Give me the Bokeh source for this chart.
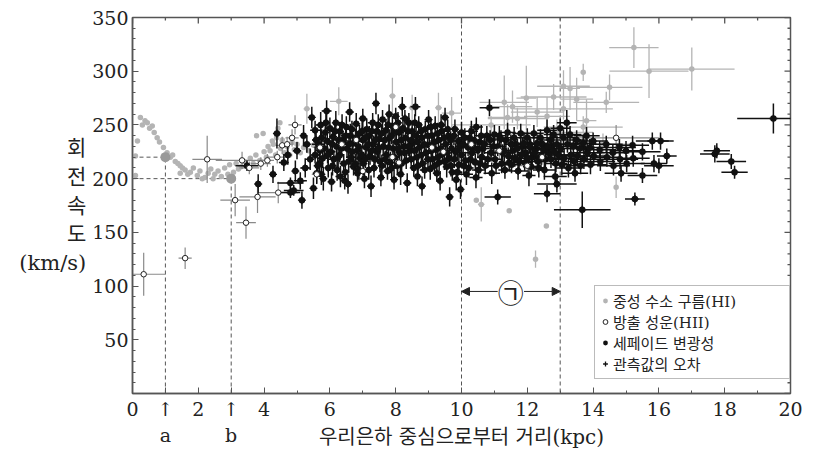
import math
from bokeh.plotting import figure
from bokeh.models import (FixedTicker, Span, Label, Arrow, NormalHead,
                          Legend, LegendItem, ColumnDataSource)
from bokeh.embed import file_html
from bokeh.resources import INLINE

# ---------------- data (kpc, km/s) ----------------
# neutral hydrogen (HI), inner curve: (x, y)
hi_inner = [(0.09,221),(0.09,203),(0.15,235),(0.24,257),(0.3,250),(0.38,254),(0.45,252),(0.52,247),
            (0.6,249),(0.66,243),(0.75,238),(0.82,234),(0.94,229),(1.05,224),(1.15,220),(1.22,222),
            (1.3,216),(1.38,214),(1.45,212),(1.45,205),(1.52,210),(1.6,208),(1.68,204),(1.76,206),
            (1.85,210),(1.97,203),(2.05,207),(2.12,200),(2.2,201),(2.3,205),(2.38,209),(2.45,200),
            (2.5,204),(2.6,207),(2.7,202),(2.8,210),(2.9,204),(2.95,213),(3.07,206),(3.15,214),
            (3.22,209),(3.3,211),(3.4,216),(3.5,211),(3.58,219),(3.67,214),(3.75,222),(3.77,240),
            (3.87,217),(3.97,242),(4.0,225),(4.07,220),(4.12,230),(4.18,226),(4.25,235),(4.28,232),
            (4.35,222),(4.38,238),(4.42,247),(4.48,252),(4.5,228),(4.55,236),(4.62,224),(4.7,230),
            (4.78,222),(4.85,234),(4.92,227),(5.0,232),(5.1,224),(5.2,229),(5.35,226),(5.5,231),
            (5.7,228),(5.9,233)]
# neutral hydrogen (HI), with errors: (x, y, xerr, yerr)
hi_outer = [(15.24,322,0.75,19),(15.7,300,1.2,25),(17.0,302,1.3,20),(13.7,299,0.05,8),
            (14.5,285,1.0,12),(14.4,271,1.0,10),(13.3,284,0.3,20),(13.1,286,0.8,15),
            (12.8,276,1.0,12),(13.5,274,0.5,20),(13.8,254,0.3,20),(13.7,248,1.2,10),
            (12.6,258,0.7,18),(11.3,271,0.75,25),(11.55,267,0.6,15),(11.97,275,0.3,30),
            (11.7,256,0.9,10),(11.4,257,0.6,12),(9.7,261,0.3,15),(12.3,262,0.8,14),
            (7.9,277,0.1,17),(6.27,272,0.27,13),(5.3,265,0.1,14),(8.5,266,0.1,12),
            (9.3,266,0.1,14),(10.6,176,0.1,16),(10.45,180,0.0,0),(11.45,170,0.0,0),
            (12.58,156,0.0,0),(12.25,125,0.05,8),(14.7,192,0.05,10),(13.1,265,1.5,10),
            (10.9,250,1.2,8),(12.9,243,1.1,12),(14.3,232,0.9,10)]
# emission nebulae (HII): (x, y, xerr, yerr)
hii = [(0.34,111,0.66,20),(1.6,126,0.2,10),(3.45,159,0.3,15),(3.12,180,0.45,15),(3.8,183,0.55,15),
       (2.27,218,0.45,22),(3.33,217,0.8,8),(3.55,210,0.3,6),(3.9,214,0.3,6),(4.1,217,0.2,6),
       (4.4,220,0.3,6),(4.43,187,0.6,10),(4.55,231,0.2,8),(4.7,232,0.2,7),(4.85,238,0.2,8),
       (4.94,250,0.2,9),(5.6,204,0.15,8),(5.7,229,0.2,7),(6.36,232,0.2,8),(6.8,236,0.2,8),
       (7.0,207,0.2,7),(7.9,220,0.2,8),(8.0,248,0.2,7),(8.1,215,0.2,8),(9.1,229,0.2,7),
       (9.45,225,0.2,8),(10.3,232,0.3,8),(11.15,226,0.3,8),(12.0,212,0.3,8),(12.45,220,0.3,7),
       (14.7,238,1.3,12)]
# Cepheid variables: (x, y, xerr, yerr)
cepheid_inner = [(3.48,212,0.35,5),(3.82,195,0.06,9),(4.27,204,0.05,8),(4.39,242,0.05,14),(4.6,215,0.15,8),
                 (4.72,222,0.1,9),(4.8,196,0.4,5),(4.8,187,0.3,5),(4.9,189,0.3,5),(4.95,207,0.1,10),
                 (5.0,226,0.12,8),(5.1,198,0.2,8),(5.15,180,0.06,8),(5.2,240,0.1,10),(5.25,210,0.15,9),
                 (5.3,232,0.1,8),(5.4,218,0.12,10),(5.45,257,0.1,10),(5.5,191,0.1,10)]
cepheid_mid = [(5.55,245,0.15,9),(5.55,222,0.12,8),(5.6,205,0.1,10),(5.65,232,0.2,7),(5.68,214,0.1,9),
               (5.72,250,0.15,12),(5.75,238,0.1,8),(5.78,219,0.18,9),(5.8,200,0.1,11),(5.83,228,0.12,7),
               (5.86,243,0.1,9),(5.9,263,0.15,10),(5.92,235,0.2,8),(5.95,210,0.1,9),(6.0,247,0.12,10),
               (6.02,225,0.15,7),(6.05,197,0.1,9),(6.1,239,0.1,8),(6.12,218,0.2,9),(6.18,252,0.1,11),
               (6.2,230,0.15,8),(6.22,208,0.1,10),(6.3,244,0.12,9),(6.3,222,0.1,7),(6.32,202,0.15,10),
               (6.4,236,0.1,8),(6.42,214,0.12,9),(6.45,198,0.1,8),(6.5,248,0.2,10),(6.52,228,0.1,8),
               (6.55,195,0.1,9),(6.6,262,0.12,9),(6.62,240,0.1,11),(6.64,220,0.15,8),(6.7,233,0.1,9),
               (6.72,211,0.12,8),(6.8,251,0.1,10),(6.82,226,0.15,9),(6.84,205,0.1,8),(6.9,242,0.12,8),
               (6.92,219,0.1,10),(7.0,256,0.1,9),(7.0,236,0.15,8),(7.02,214,0.1,11),(7.05,200,0.12,9),
               (7.1,229,0.1,8),(7.12,246,0.2,10),(7.2,240,0.1,9),(7.22,221,0.12,8),(7.25,193,0.1,10),
               (7.3,252,0.15,9),(7.32,232,0.1,8),(7.34,210,0.1,9),(7.4,270,0.1,10),(7.42,244,0.12,9),
               (7.44,225,0.1,8),(7.5,237,0.15,9),(7.52,216,0.1,10),(7.55,201,0.1,8),(7.6,255,0.12,9),
               (7.62,230,0.1,8),(7.7,245,0.1,10),(7.72,222,0.15,9),(7.75,207,0.1,8),(7.8,260,0.1,9),
               (7.82,238,0.12,8),(7.84,215,0.1,10),(7.9,249,0.15,9),(7.92,228,0.1,8),(7.95,199,0.1,9),
               (8.0,258,0.1,8),(8.02,234,0.12,10),(8.05,212,0.1,9),(8.1,243,0.15,8),(8.12,224,0.1,9),
               (8.15,204,0.1,10),(8.2,267,0.12,9),(8.22,247,0.1,8),(8.24,230,0.15,9),(8.3,238,0.1,10),
               (8.32,217,0.1,8),(8.35,196,0.12,9),(8.4,252,0.1,9),(8.42,226,0.15,8),(8.5,244,0.1,10),
               (8.52,233,0.12,9),(8.55,210,0.1,8),(8.6,267,0.15,9),(8.62,240,0.1,8),(8.64,220,0.12,10),
               (8.66,202,0.1,9),(8.7,250,0.1,8),(8.72,229,0.15,9),(8.8,238,0.1,10),(8.82,214,0.12,8),
               (8.8,193,0.1,9),(8.9,246,0.1,8),(8.92,224,0.15,9),(9.0,255,0.1,9),(9.02,231,0.12,8),
               (9.05,209,0.1,10),(9.1,240,0.15,9),(9.12,218,0.1,8),(9.2,249,0.1,9),(9.22,227,0.12,10),
               (9.25,205,0.1,8),(9.3,236,0.15,9),(9.32,215,0.1,8),(9.35,198,0.1,9),(9.4,244,0.12,10),
               (9.42,223,0.1,8),(9.5,257,0.1,9),(9.52,232,0.15,8),(9.55,211,0.1,10),(9.6,240,0.12,9),
               (9.62,219,0.1,8),(9.64,183,0.1,9),(9.7,228,0.15,10),(9.72,206,0.1,8),(9.8,246,0.1,9),
               (9.82,225,0.12,8),(9.84,199,0.1,10),(9.9,235,0.15,9),(9.92,213,0.1,8),(9.97,190,0.1,9),
               (10.0,243,0.12,10),(10.0,222,0.1,8)]
cepheid_fill = [(5.58,236,0.12,10),(5.63,212,0.1,8),(5.7,226,0.15,9),(5.74,204,0.1,10),(5.88,252,0.12,9),
                (5.93,222,0.1,8),(6.07,232,0.15,10),(6.08,212,0.1,9),(6.15,244,0.12,8),(6.25,220,0.1,10),
                (6.27,236,0.15,9),(6.35,228,0.1,8),(6.37,250,0.12,10),(6.47,206,0.1,9),(6.48,240,0.15,8),
                (6.57,216,0.1,10),(6.58,232,0.12,9),(6.67,246,0.1,8),(6.68,225,0.15,10),(6.77,214,0.1,9),
                (6.78,238,0.12,8),(6.87,230,0.1,10),(6.88,208,0.15,9),(6.97,222,0.1,8),(6.98,244,0.12,10),
                (7.07,238,0.1,9),(7.08,218,0.15,8),(7.17,232,0.1,10),(7.18,208,0.12,9),(7.27,244,0.1,8),
                (7.28,226,0.15,10),(7.37,218,0.1,9),(7.38,236,0.12,8),(7.47,250,0.1,10),(7.48,228,0.15,9),
                (7.57,242,0.1,8),(7.58,212,0.12,10),(7.67,236,0.1,9),(7.68,218,0.15,8),(7.77,250,0.1,10),
                (7.78,229,0.12,9),(7.87,240,0.1,8),(7.88,210,0.15,10),(7.97,220,0.1,9),(7.98,244,0.12,8),
                (8.07,252,0.1,10),(8.08,228,0.15,9),(8.17,236,0.1,8),(8.18,214,0.12,10),(8.27,224,0.1,9),
                (8.28,256,0.15,8),(8.37,244,0.1,10),(8.38,230,0.12,9),(8.47,218,0.1,8),(8.48,236,0.15,10),
                (8.57,226,0.1,9),(8.58,252,0.12,8),(8.67,234,0.1,10),(8.68,212,0.15,9),(8.77,244,0.1,8),
                (8.78,222,0.12,10),(8.87,232,0.1,9),(8.88,208,0.15,8),(8.97,240,0.1,10),(8.98,218,0.12,9),
                (9.07,248,0.1,8),(9.08,226,0.15,10),(9.17,234,0.1,9),(9.18,212,0.12,8),(9.27,242,0.1,10),
                (9.28,220,0.15,9),(9.37,228,0.1,8),(9.38,250,0.12,10),(9.47,238,0.1,9),(9.48,216,0.15,8),
                (9.57,224,0.1,10),(9.58,246,0.12,9),(9.67,236,0.1,8),(9.68,212,0.15,10),(9.77,240,0.1,9),
                (9.78,218,0.12,8),(9.87,226,0.1,10),(9.88,206,0.15,9),(9.95,230,0.1,8),(10.05,232,0.15,9),
                (10.07,212,0.2,8),(10.25,238,0.2,9),(10.27,218,0.2,8),(10.35,230,0.2,9),(10.55,234,0.2,8),
                (10.57,214,0.25,9),(10.65,228,0.2,8),(10.77,240,0.2,9),(10.8,218,0.25,8),(10.97,230,0.2,9),
                (11.05,212,0.25,8),(11.15,240,0.2,9),(11.25,224,0.25,8),(11.35,236,0.2,9),(11.45,215,0.25,8),
                (11.55,226,0.2,9),(11.65,232,0.25,8),(11.75,216,0.2,9),(11.85,230,0.3,8),(11.95,224,0.25,9),
                (12.07,232,0.3,8),(12.15,220,0.25,9),(12.27,228,0.3,8),(12.35,210,0.25,9),(12.45,232,0.3,8),
                (12.55,218,0.3,9),(12.65,224,0.3,8),(12.75,230,0.3,9),(12.87,214,0.35,8),(12.95,222,0.3,9)]
cepheid_outer = [(10.1,238,0.2,9),(10.12,217,0.15,8),(10.15,204,0.2,10),(10.2,229,0.2,8),(10.22,210,0.15,9),
                 (10.3,244,0.2,10),(10.32,224,0.25,8),(10.4,235,0.2,9),(10.42,215,0.15,8),(10.44,201,0.2,10),
                 (10.45,248,0.2,9),(10.5,227,0.25,8),(10.52,208,0.2,9),(10.6,240,0.2,10),(10.62,220,0.15,8),
                 (10.7,232,0.25,9),(10.72,212,0.2,8),(10.85,266,0.3,8),(10.87,236,0.2,9),(10.9,224,0.2,8),
                 (10.92,205,0.25,10),(11.0,241,0.2,9),(11.02,218,0.2,8),(11.1,230,0.25,9),(11.1,183,0.4,7),
                 (11.2,237,0.2,8),(11.22,214,0.25,9),(11.3,226,0.2,10),(11.32,208,0.2,8),(11.4,243,0.25,9),
                 (11.42,221,0.2,8),(11.5,232,0.2,9),(11.52,213,0.3,8),(11.6,238,0.2,10),(11.62,219,0.25,8),
                 (11.7,228,0.2,9),(11.72,207,0.3,8),(11.8,242,0.25,9),(11.82,222,0.2,8),(11.9,233,0.3,10),
                 (11.92,215,0.2,8),(12.0,238,0.25,9),(12.02,219,0.3,8),(12.05,203,0.2,10),(12.1,229,0.3,8),
                 (12.12,211,0.25,9),(12.2,242,0.3,8),(12.22,224,0.25,9),(12.3,233,0.3,8),(12.32,216,0.3,10),
                 (12.4,238,0.25,8),(12.42,221,0.3,9),(12.5,227,0.3,8),(12.52,208,0.35,9),(12.6,245,0.3,10),
                 (12.62,230,0.25,8),(12.6,186,0.4,8),(12.7,236,0.3,9),(12.72,218,0.35,8),(12.8,241,0.3,9),
                 (12.82,225,0.3,8),(12.85,202,0.35,10),(12.9,232,0.3,8),(12.9,195,0.6,8),(13.0,247,0.3,9),
                 (13.02,228,0.35,8),(13.05,213,0.3,10),(13.1,238,0.35,8),(13.12,219,0.3,9),(13.2,252,0.3,12),
                 (13.22,232,0.35,8),(13.25,210,0.4,9),(13.3,241,0.35,8),(13.32,222,0.3,9),(13.4,230,0.4,8),
                 (13.42,216,0.35,9),(13.45,205,0.4,8),(13.5,236,0.35,9),(13.52,221,0.4,8),(13.6,228,0.4,9),
                 (13.62,212,0.35,8),(13.67,171,0.86,17),(13.7,233,0.4,8),(13.72,218,0.45,9),(13.8,240,0.4,8),
                 (13.82,224,0.45,9),(13.9,229,0.4,8),(13.92,213,0.5,9),(14.0,235,0.45,8),(14.02,221,0.4,9),
                 (14.2,227,0.5,8),(14.22,216,0.45,9),(14.4,232,0.5,8),(14.42,220,0.45,9),(14.6,224,0.5,8),
                 (14.62,212,0.5,9),(14.8,229,0.5,8),(14.82,218,0.55,9),(14.85,205,0.5,8),(15.0,226,0.5,9),
                 (15.02,214,0.55,8),(15.2,231,0.5,9),(15.22,219,0.5,8),(15.27,181,0.3,6),(15.5,225,0.55,8),
                 (15.5,203,0.45,7),(15.8,235,0.5,8),(15.85,214,0.4,8),(16.0,212,0.45,7),(16.05,235,0.4,8),
                 (16.24,221,0.3,7),(17.7,223,0.45,8),(17.76,226,0.4,7),(18.2,216,0.45,7),(18.3,206,0.4,6),
                 (19.48,256,1.1,14)]
# reference points a and b (radius, speed)
ref_x = [1.0, 3.0]
ref_v = [220, 200]
ref_names = ["a", "b"]
# region (ㄱ) boundaries
region_x = [10.0, 13.0]
region_label = "㉠"
region_v = 95

x_major = [0, 2, 4, 6, 8, 10, 12, 14, 16, 18, 20]
x_minor = [1, 3, 5, 7, 9, 11, 13, 15, 17, 19]
y_major = [0, 50, 100, 150, 200, 250, 300, 350]
y_minor = [10, 20, 30, 40, 60, 70, 80, 90, 110, 120, 130, 140, 160, 170, 180, 190,
           210, 220, 230, 240, 260, 270, 280, 290, 310, 320, 330, 340]

legend_labels = ["중성 수소 구름(HI)", "방출 성운(HII)", "세페이드 변광성", "관측값의 오차"]
x_title = "우리은하 중심으로부터 거리(kpc)"
y_title = "회\n전\n속\n도\n(km/s)"

SERIF = "DejaVu Serif"
KR = "'DejaVu Serif', 'Noto Sans CJK KR'"
KR_ONLY = "Noto Sans CJK KR"
AXC = "#555555"


def src(rows):
    x = [r[0] for r in rows]
    y = [r[1] for r in rows]
    xe = [r[2] if len(r) > 2 else 0 for r in rows]
    ye = [r[3] if len(r) > 3 else 0 for r in rows]
    return ColumnDataSource(dict(x=x, y=y,
                                 xl=[a - b for a, b in zip(x, xe)], xr=[a + b for a, b in zip(x, xe)],
                                 yl=[a - b for a, b in zip(y, ye)], yh=[a + b for a, b in zip(y, ye)]))


p = figure(width=816, height=455, x_range=(0, 20), y_range=(0, 350),
           output_backend="svg", toolbar_location=None,
           min_border_left=132, min_border_right=26, min_border_top=17, min_border_bottom=62)
p.grid.visible = False
p.background_fill_color = "white"
p.border_fill_color = "white"
p.outline_line_color = AXC
p.outline_line_width = 1.5

# axes
for ax in (p.xaxis[0], p.yaxis[0]):
    ax.axis_line_color = AXC
    ax.axis_line_width = 1.5
    ax.major_tick_in = 6
    ax.major_tick_out = 0
    ax.minor_tick_in = 3
    ax.minor_tick_out = 0
    ax.major_tick_line_color = AXC
    ax.minor_tick_line_color = AXC
    ax.major_label_text_font = SERIF
    ax.major_label_text_font_size = "19px"
    ax.major_label_text_color = "#222222"

# bottom axis: numbers, plus the a / b markers below the axis at their radii
p.xaxis[0].ticker = FixedTicker(ticks=sorted(x_major + ref_x),
                                minor_ticks=[t for t in x_minor if t not in ref_x])
p.xaxis[0].major_label_overrides = {xv: "↑\n" + nm for xv, nm in zip(ref_x, ref_names)}
p.xaxis[0].major_label_standoff = 4
p.xaxis[0].axis_label = x_title
p.xaxis[0].axis_label_text_font = KR
p.xaxis[0].axis_label_text_font_size = "20px"
p.xaxis[0].axis_label_text_font_style = "normal"
p.xaxis[0].axis_label_text_color = "#222222"
p.xaxis[0].axis_label_standoff = -24

p.yaxis[0].ticker = FixedTicker(ticks=y_major, minor_ticks=y_minor)
p.yaxis[0].major_label_overrides = {0: ""}
p.yaxis[0].major_label_standoff = 4
p.yaxis[0].axis_label = y_title
p.yaxis[0].axis_label_orientation = "horizontal"
p.yaxis[0].axis_label_text_font = KR
p.yaxis[0].axis_label_text_font_size = "21px"
p.yaxis[0].axis_label_text_font_style = "normal"
p.yaxis[0].axis_label_text_color = "#222222"
p.yaxis[0].axis_label_text_align = "center"
p.yaxis[0].axis_label_text_line_height = 1.2
p.yaxis[0].axis_label_standoff = 3

# mirrored inward ticks on the top and right frame edges (half of each dash is clipped away)
top_major = ColumnDataSource(dict(x=x_major, y=[350] * len(x_major)))
top_minor = ColumnDataSource(dict(x=x_minor, y=[350] * len(x_minor)))
right_major = ColumnDataSource(dict(x=[20] * len(y_major), y=y_major))
right_minor = ColumnDataSource(dict(x=[20] * len(y_minor), y=y_minor))
p.scatter("x", "y", source=top_major, marker="dash", angle=math.pi / 2, size=12, line_color=AXC, line_width=1.3)
p.scatter("x", "y", source=top_minor, marker="dash", angle=math.pi / 2, size=6, line_color=AXC, line_width=1.3)
p.scatter("x", "y", source=right_major, marker="dash", size=12, line_color=AXC, line_width=1.3)
p.scatter("x", "y", source=right_minor, marker="dash", size=6, line_color=AXC, line_width=1.3)

# dashed guide lines
for xv in region_x:
    p.add_layout(Span(location=xv, dimension="height", line_color=AXC,
                      line_dash="4 3", line_width=1, level="underlay"))
ref_src = ColumnDataSource(dict(x=ref_x, v=ref_v, zero=[0, 0]))
p.segment(x0="zero", y0="v", x1="x", y1="v", source=ref_src, line_color=AXC,
          line_dash="4 3", line_width=1, level="underlay")
p.segment(x0="x", y0="zero", x1="x", y1="v", source=ref_src, line_color=AXC,
          line_dash="4 3", line_width=1, level="underlay")

# HI
hi_in = src(hi_inner)
hi_out = src(hi_outer)
GRAY = "#b4b4b4"
p.segment(x0="xl", y0="y", x1="xr", y1="y", source=hi_out, line_color=GRAY, line_width=1.3)
p.segment(x0="x", y0="yl", x1="x", y1="yh", source=hi_out, line_color=GRAY, line_width=1.3)
hi_r = p.scatter("x", "y", source=hi_in, size=5.5, fill_color=GRAY, line_color=None)
p.scatter("x", "y", source=hi_out, size=5.5, fill_color=GRAY, line_color=None)
p.scatter(x="x", y="v", source=ref_src, size=10, fill_color="#999999", line_color=None)

# HII error bars
hii_s = src(hii)
p.segment(x0="xl", y0="y", x1="xr", y1="y", source=hii_s, line_color="#8a8a8a", line_width=1.2)
p.segment(x0="x", y0="yl", x1="x", y1="yh", source=hii_s, line_color="#8a8a8a", line_width=1.2)

# Cepheids
ceph_r = None
err_r = None
for rows in (cepheid_inner, cepheid_mid, cepheid_fill, cepheid_outer):
    s = src(rows)
    p.segment(x0="xl", y0="y", x1="xr", y1="y", source=s, line_color="#111111", line_width=1.5)
    p.segment(x0="x", y0="yl", x1="x", y1="yh", source=s, line_color="#111111", line_width=1.5)
    e = p.scatter("x", "y", source=s, marker="cross", size=8, line_color="#111111", line_width=1.3)
    r = p.scatter("x", "y", source=s, size=6.5, fill_color="#111111", line_color=None)
    if ceph_r is None:
        ceph_r = r
        err_r = e

# HII markers on top
hii_r = p.scatter("x", "y", source=hii_s, size=5.5, fill_color="white", line_color="#222222", line_width=1)

# region arrows and label
mid = sum(region_x) / 2
for xe in region_x:
    p.add_layout(Arrow(x_start=mid + (0.4 if xe > mid else -0.4), y_start=region_v, x_end=xe, y_end=region_v,
                       line_width=1, line_color="#222222",
                       end=NormalHead(size=8, fill_color="#222222", line_color="#222222")))
p.add_layout(Label(x=mid, y=region_v, text=region_label, text_align="center", text_baseline="middle",
                   text_font=KR_ONLY, text_font_size="26px", text_color="#222222"))

# legend
legend = Legend(items=[LegendItem(label=legend_labels[0], renderers=[hi_r]),
                       LegendItem(label=legend_labels[1], renderers=[hii_r]),
                       LegendItem(label=legend_labels[2], renderers=[ceph_r]),
                       LegendItem(label=legend_labels[3], renderers=[err_r])],
                location=(462, 14), orientation="vertical")
legend.label_text_font = KR
legend.label_text_font_size = "15px"
legend.label_text_color = "#222222"
legend.label_height = 15
legend.label_width = 172
legend.glyph_height = 15
legend.glyph_width = 12
legend.label_standoff = 2
legend.spacing = 0
legend.padding = 4
legend.margin = 0
legend.border_line_color = "#777777"
legend.border_line_width = 1.5
legend.background_fill_color = "white"
legend.background_fill_alpha = 1.0
p.add_layout(legend)

open("out.html", "w").write(file_html(p, INLINE))
